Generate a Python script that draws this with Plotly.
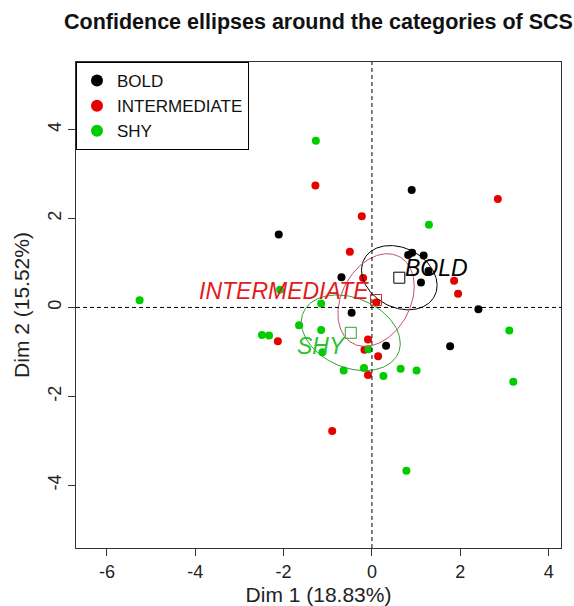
import numpy as np
import plotly.graph_objects as go

# ---- data ----
categories = ["BOLD", "INTERMEDIATE", "SHY"]

bold_x = [-2.11, 0.90, 0.82, 0.91, 1.17, 1.28, 1.11, -0.69, -0.46, 2.41, 0.32, 1.77]
bold_y = [1.64, 2.64, 1.18, 1.23, 1.17, 0.82, 0.56, 0.68, -0.12, -0.04, -0.86, -0.87]

inter_x = [-1.28, 2.85, -0.23, -0.50, -0.20, 1.86, 1.95, 0.10, -2.13, -0.09, -0.17, 0.14, -0.09, -0.90]
inter_y = [2.74, 2.44, 2.05, 1.25, 0.66, 0.60, 0.31, 0.11, -0.76, -0.72, -0.95, -1.10, -1.52, -2.78]

shy_x = [-1.27, 1.29, -5.26, -2.08, -1.15, -2.49, -2.33, -1.65, -1.15, -1.12, -0.08, 3.11,
         -0.64, -0.18, 0.26, 0.65, 1.01, 3.20, 0.78]
shy_y = [3.75, 1.86, 0.16, 0.40, 0.09, -0.62, -0.63, -0.40, -0.51, -1.01, -0.94, -0.52,
         -1.42, -1.36, -1.54, -1.38, -1.42, -1.67, -3.67]

x_ticks = [-6, -4, -2, 0, 2, 4]
y_ticks = [-4, -2, 0, 2, 4]

CHI2_95_2DF = 5.991  # chi-square quantile (0.95, 2 df) for confidence ellipse

# ---- styles ----
FONT = "Liberation Sans, Arial, sans-serif"
point_colors = {"BOLD": "#000000", "INTERMEDIATE": "#E60000", "SHY": "#00CD00"}
ellipse_colors = {"BOLD": "#000000", "INTERMEDIATE": "#C0506A", "SHY": "#30A030"}
square_colors = {"BOLD": "#000000", "INTERMEDIATE": "#D02020", "SHY": "#30A030"}
label_colors = {"BOLD": "#000000", "INTERMEDIATE": "#E31A1C", "SHY": "#2DC12D"}

series = {
    "BOLD": (bold_x, bold_y),
    "INTERMEDIATE": (inter_x, inter_y),
    "SHY": (shy_x, shy_y),
}


def conf_ellipse(x, y, npts=200):
    x = np.asarray(x, float)
    y = np.asarray(y, float)
    n = len(x)
    cov = np.cov(np.vstack([x, y])) / n
    vals, vecs = np.linalg.eigh(cov)
    t = np.sqrt(CHI2_95_2DF)
    th = np.linspace(0, 2 * np.pi, npts)
    circ = np.vstack([np.cos(th), np.sin(th)])
    pts = vecs @ (np.sqrt(vals)[:, None] * circ) * t
    return x.mean() + pts[0], y.mean() + pts[1]


fig = go.Figure()

# points
for cat in categories:
    xs, ys = series[cat]
    fig.add_trace(go.Scatter(
        x=xs, y=ys, mode="markers", name=cat,
        marker=dict(color=point_colors[cat], size=8, line=dict(width=0)),
        showlegend=True,
    ))

# ellipses and centroids
label_pos = {
    "BOLD": dict(xanchor="left", yanchor="middle", xshift=4, yshift=10),
    "INTERMEDIATE": dict(xanchor="right", yanchor="middle", xshift=-5, yshift=9),
    "SHY": dict(xanchor="right", yanchor="middle", xshift=-3, yshift=-13),
}
for cat in categories:
    xs, ys = series[cat]
    ex, ey = conf_ellipse(xs, ys)
    fig.add_trace(go.Scatter(
        x=ex, y=ey, mode="lines", line=dict(color=ellipse_colors[cat], width=1),
        showlegend=False, hoverinfo="skip",
    ))
    cx, cy = float(np.mean(xs)), float(np.mean(ys))
    fig.add_trace(go.Scatter(
        x=[cx], y=[cy], mode="markers", showlegend=False,
        marker=dict(symbol="square-open", size=11, color=square_colors[cat], line=dict(width=1)),
    ))
    fig.add_annotation(
        x=cx, y=cy, text=f"<i>{cat}</i>", showarrow=False,
        font=dict(family=FONT, size=23, color=label_colors[cat]),
        **label_pos[cat],
    )

# reference dashed lines
fig.add_shape(type="line", x0=0, x1=0, y0=0, y1=1, xref="x", yref="paper",
              line=dict(color="black", width=1, dash="4px,3px"))
fig.add_shape(type="line", x0=0, x1=1, y0=0, y1=0, xref="paper", yref="y",
              line=dict(color="black", width=1, dash="4px,3px"))

axis_common = dict(
    showgrid=False, zeroline=False, showline=True, linecolor="#333", linewidth=1,
    mirror=True, ticks="outside", ticklen=7, tickcolor="#333", automargin=False,
    tickfont=dict(family=FONT, size=18, color="#222"),
)

fig.update_layout(
    width=574, height=606,
    margin=dict(l=76, r=13, t=62, b=58, autoexpand=False),
    paper_bgcolor="white", plot_bgcolor="white",
    font=dict(family=FONT, color="#222"),
    title=dict(text="<b>Confidence ellipses around the categories of SCS</b>",
               font=dict(family=FONT, size=21.5, color="#111"), automargin=False,
               x=0.5, xref="paper", xanchor="center", y=1 - 21 / 606, yanchor="middle"),
    xaxis=dict(range=[-6.7, 4.28], tickvals=x_ticks, ticktext=[str(v) for v in x_ticks],
               title=dict(text="Dim 1 (18.83%)", font=dict(family=FONT, size=21, color="#222")),
               **axis_common),
    yaxis=dict(range=[-5.41, 5.52], tickvals=y_ticks, ticktext=[str(v) for v in y_ticks],
               tickangle=-90,
               title=dict(text="Dim 2 (15.52%)", font=dict(family=FONT, size=21, color="#222"), standoff=9),
               **axis_common),
    legend=dict(x=0, y=1, xanchor="left", yanchor="top", bgcolor="white",
                bordercolor="black", borderwidth=1,
                font=dict(family=FONT, size=17, color="#111"),
                itemsizing="constant", tracegroupgap=0),
    showlegend=True,
)

fig.write_html("out.html")
